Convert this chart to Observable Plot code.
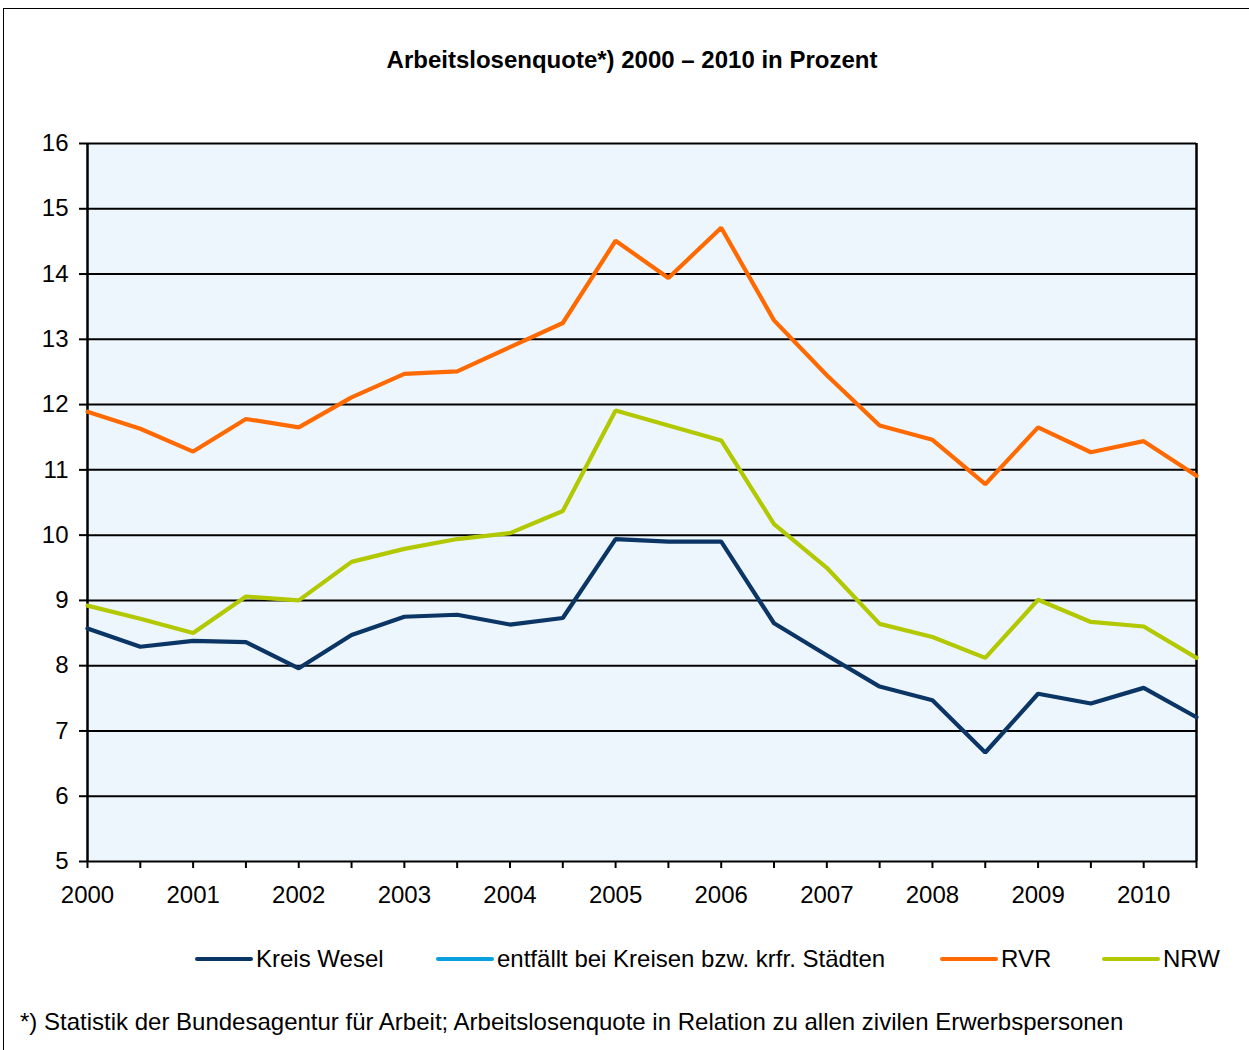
<!DOCTYPE html>
<html>
<head>
<meta charset="utf-8">
<script src="https://cdn.jsdelivr.net/npm/d3@7"></script>
<script src="https://cdn.jsdelivr.net/npm/@observablehq/plot@0.6"></script>
<style>
  html, body { margin: 0; padding: 0; background: #fff; }
  body { font-family: "Liberation Sans", Arial, sans-serif; color: #000; }
  #wrap { position: relative; width: 1249px; height: 1050px; overflow: hidden; }
  #border { position: absolute; left: 3px; top: 8px; width: 1300px; height: 1100px; border-left: 1.5px solid #000; border-top: 1.5px solid #000; }
  #title { position: absolute; left: 0; width: 1264px; top: 46px; text-align: center; font-weight: bold; font-size: 24px; line-height: 28px; }
  #chart { position: absolute; left: 0; top: 120px; }
  #legend { position: absolute; top: 945px; left: 0; width: 1249px; height: 28px; font-size: 24px; line-height: 28px; }
  .item { position: absolute; top: 0; display: flex; align-items: center; white-space: nowrap; }
  .sw { width: 58px; height: 4px; border-radius: 2px; margin-right: 3px; }
  #foot { position: absolute; left: 20px; top: 1008px; font-size: 24px; line-height: 28px; white-space: nowrap; }
</style>
</head>
<body>
<div id="wrap">
  <div id="border"></div>
  <div id="title">Arbeitslosenquote*) 2000 – 2010 in Prozent</div>
  <div id="chart"></div>
  <div id="legend"></div>
  <div id="foot">*) Statistik der Bundesagentur für Arbeit; Arbeitslosenquote in Relation zu allen zivilen Erwerbspersonen</div>
</div>
<script>
// Half-year time points
const periods = [2000, 2000.5, 2001, 2001.5, 2002, 2002.5, 2003, 2003.5, 2004, 2004.5, 2005, 2005.5,
                 2006, 2006.5, 2007, 2007.5, 2008, 2008.5, 2009, 2009.5, 2010, 2010.5];
const yearLabels = [2000, 2001, 2002, 2003, 2004, 2005, 2006, 2007, 2008, 2009, 2010];
const yTicks = [5, 6, 7, 8, 9, 10, 11, 12, 13, 14, 15, 16];

const seriesNames = ["Kreis Wesel", "entfällt bei Kreisen bzw. krfr. Städten", "RVR", "NRW"];
const seriesColors = ["#0B3565", "#0AA0E0", "#FF6A00", "#B2C800"];

const kreisWesel = [8.57, 8.29, 8.38, 8.36, 7.96, 8.47, 8.75, 8.78, 8.63, 8.73, 9.94, 9.90,
                    9.90, 8.65, 8.16, 7.68, 7.47, 6.67, 7.57, 7.42, 7.66, 7.21];
const entfaellt = [];
const rvr = [11.89, 11.63, 11.28, 11.78, 11.65, 12.11, 12.47, 12.51, 12.88, 13.25, 14.51, 13.94,
             14.71, 13.29, 12.45, 11.68, 11.46, 10.78, 11.65, 11.27, 11.44, 10.91];
const nrw = [8.92, 8.72, 8.50, 9.06, 9.00, 9.59, 9.79, 9.94, 10.03, 10.37, 11.91, 11.68,
             11.45, 10.17, 9.50, 8.64, 8.44, 8.12, 9.01, 8.67, 8.60, 8.12];

const seriesValues = [kreisWesel, entfaellt, rvr, nrw];
const data = [];
seriesNames.forEach((name, s) => {
  seriesValues[s].forEach((v, i) => data.push({series: name, t: periods[i], v}));
});

const chart = Plot.plot({
  width: 1249,
  height: 800,
  marginLeft: 87,
  marginRight: 53,
  marginTop: 23,
  marginBottom: 59,
  style: {fontFamily: "'Liberation Sans', Arial, sans-serif", fontSize: "24px", color: "#000", background: "transparent"},
  x: {domain: [2000, 2010.5], label: null},
  y: {domain: [5, 16], label: null},
  color: {domain: seriesNames, range: seriesColors},
  marks: [
    Plot.frame({fill: "#EEF6FD", stroke: null}),
    Plot.ruleY(yTicks, {stroke: "#000", strokeWidth: 2}),
    Plot.ruleX([2000, 2010.5], {stroke: "#000", strokeWidth: 2.5}),
    Plot.axisY({ticks: yTicks, tickSize: 8, tickPadding: 11, tickFormat: d => String(d), stroke: "#000", strokeWidth: 2, fill: "#000"}),
    Plot.axisX({ticks: periods, tickSize: 7, tickPadding: 17,
                tickFormat: d => yearLabels.includes(d) ? String(d) : "", stroke: "#000", strokeWidth: 2, fill: "#000"}),
    Plot.lineY(data, {x: "t", y: "v", z: "series", stroke: "series", strokeWidth: 4.2, strokeLinejoin: "miter", strokeLinecap: "round"})
  ]
});
document.getElementById("chart").appendChild(chart);

// Legend
const legendX = [195, 436, 940, 1102];
const legend = document.getElementById("legend");
seriesNames.forEach((name, i) => {
  const item = document.createElement("div");
  item.className = "item";
  item.style.left = legendX[i] + "px";
  const sw = document.createElement("div");
  sw.className = "sw";
  sw.style.background = seriesColors[i];
  const label = document.createElement("span");
  label.textContent = name;
  item.appendChild(sw);
  item.appendChild(label);
  legend.appendChild(item);
});
</script>
</body>
</html>
